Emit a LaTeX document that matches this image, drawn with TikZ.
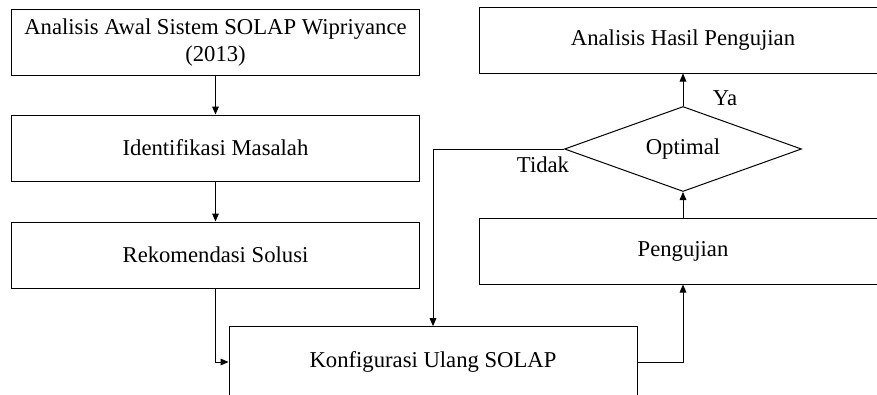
\documentclass[tikz,border=0pt]{standalone}
\usepackage{fontspec}
\setmainfont{Liberation Serif}
\usetikzlibrary{arrows.meta,shapes.geometric}

\tikzset{
  prosesbox/.style={draw, line width=0.75pt, rectangle, inner sep=0.75pt,
    minimum width=306pt, minimum height=49.5pt, align=center},
  keputusan/.style={draw, line width=0.75pt, diamond, aspect=3, inner sep=0pt,
    minimum width=177.75pt, minimum height=63.75pt},
  panah/.style={line width=0.75pt, -{Triangle[length=6pt,width=5pt]}},
  garis/.style={line width=0.75pt}
}

\begin{document}
\begin{tikzpicture}[x=0.75pt,y=0.75pt,yscale=-1,xscale=1,
  font=\rmfamily\fontsize{17}{20}\selectfont]
			\clip (0,0) rectangle (877,394);

			% Text Node
			\node [prosesbox] (awal) at (215.5,42.5) {Analisis Awal Sistem SOLAP Wipriyance\\(2013)};
			% Text Node
			\node [prosesbox] (identifikasi) at (215.5,148) {Identifikasi Masalah};
			% Text Node
			\node [prosesbox] (rekomendasi) at (215.5,255) {Rekomendasi Solusi};
			% Text Node
			\node [prosesbox, minimum height=53pt] (konfigurasi) at (433,362) {Konfigurasi Ulang SOLAP};
			% Text Node
			\node [prosesbox] (pengujian) at (683,251) {Pengujian};
			% Diamond
			\node [keputusan] (optimal) at (683,149) {Optimal};
			% Text Node
			\node [prosesbox] (hasil) at (683,40) {Analisis Hasil Pengujian};

			%Straight Lines
			\draw [panah] (awal) -- (identifikasi);
			\draw [panah] (identifikasi) -- (rekomendasi);
			\draw [panah] (rekomendasi.south) |- (konfigurasi.west);
			\draw [panah] (konfigurasi.east) -| (pengujian.south);
			\draw [panah] (pengujian.north) -- (optimal.south);
			\draw [panah] (optimal.north) -- (hasil.south);
			\draw [panah] (optimal.west) -| (konfigurasi.north);

			% Text Node
			\node [inner sep=0.75pt] (ya) at (725,98) {Ya};
			% Text Node
			\node [inner sep=0.75pt] (tidak) at (543,165) {Tidak};
\end{tikzpicture}
\end{document}
